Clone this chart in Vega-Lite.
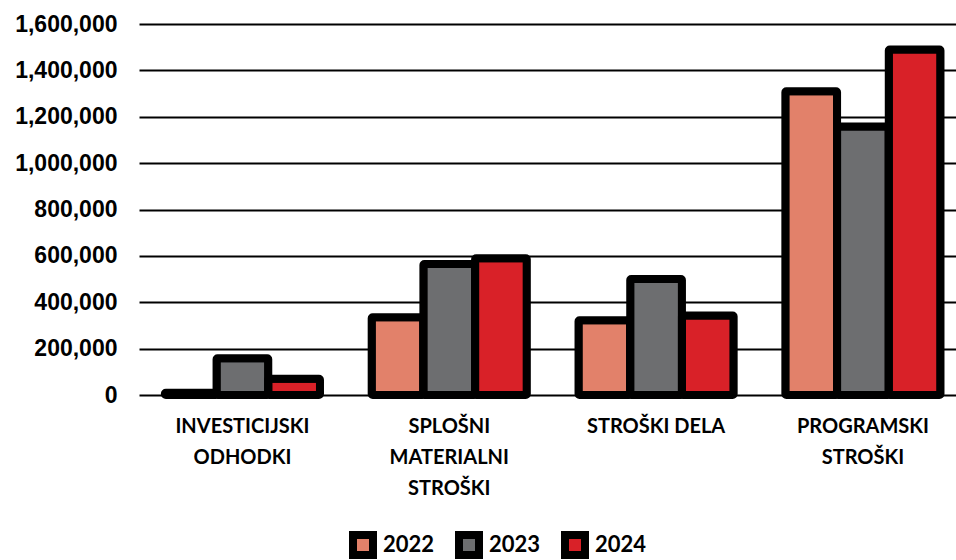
{
  "$schema": "https://vega.github.io/schema/vega-lite/v6.json",
  "autosize": {"type": "none"},
  "padding": {"left": 139, "top": 24, "right": 0, "bottom": 165},
  "width": 817,
  "height": 371,
  "background": "white",
  "data": {
    "values": [
      {"category": "INVESTICIJSKI ODHODKI", "year": "2022", "value": 10000},
      {"category": "INVESTICIJSKI ODHODKI", "year": "2023", "value": 158000},
      {"category": "INVESTICIJSKI ODHODKI", "year": "2024", "value": 70000},
      {"category": "SPLOŠNI MATERIALNI STROŠKI", "year": "2022", "value": 335000},
      {"category": "SPLOŠNI MATERIALNI STROŠKI", "year": "2023", "value": 565000},
      {"category": "SPLOŠNI MATERIALNI STROŠKI", "year": "2024", "value": 590000},
      {"category": "STROŠKI DELA", "year": "2022", "value": 322000},
      {"category": "STROŠKI DELA", "year": "2023", "value": 500000},
      {"category": "STROŠKI DELA", "year": "2024", "value": 343000},
      {"category": "PROGRAMSKI STROŠKI", "year": "2022", "value": 1310000},
      {"category": "PROGRAMSKI STROŠKI", "year": "2023", "value": 1158000},
      {"category": "PROGRAMSKI STROŠKI", "year": "2024", "value": 1490000}
    ]
  },
  "mark": {"type": "bar", "stroke": "black", "strokeWidth": 8, "strokeJoin": "round", "cornerRadius": 1},
  "encoding": {
    "x": {
      "field": "category",
      "type": "nominal",
      "sort": ["INVESTICIJSKI ODHODKI", "SPLOŠNI MATERIALNI STROŠKI", "STROŠKI DELA", "PROGRAMSKI STROŠKI"],
      "scale": {"paddingInner": 0.25, "paddingOuter": 0.1, "align": 0.625},
      "axis": {
        "title": null,
        "domain": false,
        "ticks": false,
        "labelAngle": 0,
        "labelPadding": 21,
        "labelFont": "Lato",
        "labelFontWeight": "bold",
        "labelFontSize": 20,
        "labelColor": "black",
        "labelLineHeight": 31,
        "labelBaseline": "top",
        "labelExpr": "datum.value == 'STROŠKI DELA' ? datum.value : split(datum.value, ' ')"
      }
    },
    "xOffset": {
      "field": "year",
      "type": "nominal",
      "scale": {"paddingInner": 0, "paddingOuter": 0}
    },
    "y": {
      "field": "value",
      "type": "quantitative",
      "scale": {"domain": [0, 1600000], "nice": false},
      "axis": {
        "title": null,
        "domain": false,
        "ticks": false,
        "values": [0, 200000, 400000, 600000, 800000, 1000000, 1200000, 1400000, 1600000],
        "format": ",.0f",
        "labelFont": "Liberation Sans",
        "labelFontWeight": "bold",
        "labelFontSize": 23,
        "labelColor": "black",
        "labelPadding": 22,
        "grid": true,
        "gridColor": "black",
        "gridWidth": 2,
        "gridOpacity": 1
      }
    },
    "color": {
      "field": "year",
      "type": "nominal",
      "scale": {"domain": ["2022", "2023", "2024"], "range": ["#E2816A", "#6D6E70", "#D92128"]},
      "legend": {
        "title": null,
        "orient": "none",
        "direction": "horizontal",
        "legendX": 210,
        "legendY": 507,
        "symbolType": "square",
        "symbolSize": 400,
        "symbolStrokeWidth": 8,
        "symbolStrokeColor": "black",
        "symbolOpacity": 1,
        "labelFont": "Lato",
        "labelFontWeight": "bold",
        "labelFontSize": 22,
        "labelColor": "black",
        "labelOffset": 6,
        "columnPadding": 8
      }
    }
  },
  "config": {"view": {"stroke": null}}
}
